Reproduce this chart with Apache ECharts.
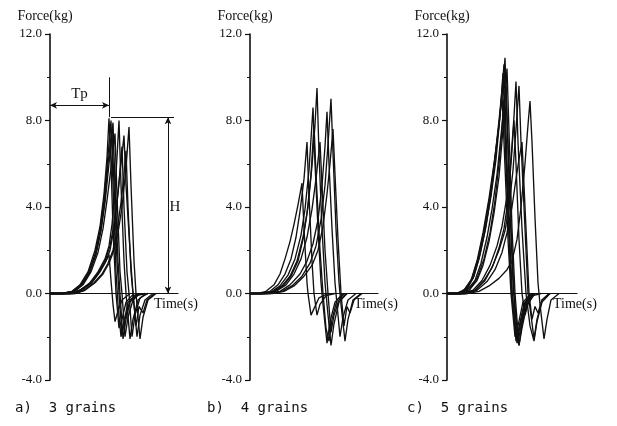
<!DOCTYPE html>
<html>
<head>
<meta charset="utf-8">
<script src="https://cdn.jsdelivr.net/npm/echarts@6/dist/echarts.min.js"></script>
<style>
  html, body { margin: 0; padding: 0; background: #fff; }
  #main { width: 617px; height: 426px; }
</style>
</head>
<body>
<div id="main"></div>
<script>
// force tick values (kg) and panel captions
var forceTicks = [-4, 0, 4, 8, 12];
var captions = ['a)  3 grains', 'b)  4 grains', 'c)  5 grains'];

// curves: [time, force] pairs, time in plot units from the axis
var grains3 = [
    [[0,0],[12,0],[22,0.1],[30,0.4],[38,1.0],[45,2.0],[50,3.1],[54,4.6],[57,6.3],[59,8.1],[61,6],[63,3],[66,0],[69,-1.6],[72,-1.2],[76,-0.4],[82,-0.1],[95,0]],
    [[0,0],[12,0],[22,0.1],[30,0.35],[38,0.9],[45,1.8],[50,2.9],[54,4.3],[58,6.4],[61,8.0],[63,5],[66,1],[68,-0.5],[71,-2.0],[74,-1.3],[78,-0.4],[85,-0.1],[98,0]],
    [[0,0],[14,0],[24,0.1],[32,0.4],[40,1.0],[46,1.8],[51,2.9],[55,4.2],[59,6.0],[63,7.9],[65,5],[68,1.5],[70,0],[73,-2.1],[76,-1.2],[80,-0.4],[88,0]],
    [[0,0],[15,0],[25,0.1],[33,0.4],[41,1.0],[48,1.9],[53,3.0],[57,4.3],[61,5.8],[65,7.4],[67,4.5],[70,1],[72,0],[75,-2.0],[78,-1.1],[83,-0.3],[90,0]],
    [[0,0],[18,0],[28,0.1],[38,0.4],[46,0.8],[52,1.2],[57,1.6],[59,1.8],[61,0.6],[63,-0.5],[65,-1.3],[68,-0.8],[72,-0.3],[80,0]],
    [[0,0],[20,0],[30,0.15],[40,0.5],[48,1.0],[55,1.6],[59,2.2],[62,3.2],[65,4.8],[67,6.3],[69,8.0],[71,5],[74,1.5],[76,0],[80,-2.1],[83,-1.2],[88,-0.3],[96,0]],
    [[0,0],[22,0],[32,0.15],[42,0.5],[50,1.0],[56,1.5],[60,2.0],[64,3.0],[68,4.6],[72,6.8],[74,4],[77,1],[79,0],[82,-2.0],[85,-1.0],[90,-0.2],[98,0]],
    [[0,0],[24,0],[34,0.15],[44,0.5],[52,0.9],[58,1.4],[63,2.0],[67,2.9],[71,4.2],[74,5.5],[76,6.6],[78,4],[81,1],[83,0],[87,-2.0],[90,-1.0],[95,-0.3],[103,0]],
    [[0,0],[25,0],[35,0.15],[45,0.5],[53,0.9],[59,1.4],[64,2.0],[68,2.8],[72,4.0],[76,5.8],[79,7.7],[81,5],[84,1.5],[86,0],[90,-2.1],[93,-1.1],[98,-0.3],[106,0]],
    [[0,0],[20,0],[30,0.15],[40,0.45],[48,0.9],[55,1.5],[60,2.2],[64,3.2],[68,4.7],[71,6.0],[74,7.3],[76,5],[80,2],[83,0],[86,-1.5],[89,-0.6],[93,-0.9],[97,-0.3],[105,0]],
    [[0,0],[13,0],[23,0.1],[31,0.4],[39,1.0],[46,1.9],[51,3.0],[55,4.4],[58,6.0],[62,7.6],[64,5],[67,1.5],[69,0],[72,-1.9],[75,-1.2],[80,-0.3],[88,0]]
];
var grains4 = [
    [[0,0],[8,0],[16,0.1],[24,0.4],[30,0.9],[35,1.6],[40,2.4],[44,3.2],[48,4.1],[52,5.1],[54,3],[57,0.5],[58,0],[61,-1.0],[64,-0.7],[69,-0.2],[78,0]],
    [[0,0],[10,0],[20,0.1],[28,0.4],[35,0.9],[41,1.6],[46,2.6],[50,3.8],[54,5.3],[57,7.0],[59,4.5],[62,1.5],[64,0],[67,-1.0],[70,-0.5],[76,-0.1],[85,0]],
    [[0,0],[12,0],[22,0.1],[30,0.35],[38,0.85],[45,1.6],[51,2.7],[55,3.9],[59,5.7],[63,8.6],[65,6],[68,3],[71,0.5],[73,-0.5],[77,-2.3],[80,-1.3],[85,-0.4],[93,0]],
    [[0,0],[14,0],[24,0.1],[32,0.35],[40,0.8],[47,1.5],[53,2.6],[58,4.0],[62,5.9],[65,7.8],[67,9.5],[69,6.5],[72,3],[75,0.5],[77,-0.5],[81,-2.4],[84,-1.4],[89,-0.4],[97,0]],
    [[0,0],[14,0],[24,0.1],[33,0.35],[41,0.8],[48,1.5],[53,2.5],[57,3.7],[61,5.5],[64,7.8],[66,5.5],[70,2],[73,0],[76,-1.6],[79,-2.2],[82,-1.2],[87,-0.3],[95,0]],
    [[0,0],[16,0],[26,0.1],[36,0.4],[44,0.9],[51,1.6],[57,2.6],[62,3.9],[66,5.3],[70,7.0],[72,5],[75,2],[78,0],[81,-1.8],[84,-1.0],[89,-0.3],[97,0]],
    [[0,0],[18,0],[30,0.1],[40,0.4],[50,0.9],[57,1.5],[63,2.3],[68,3.4],[72,5.0],[75,6.8],[77,8.4],[79,6],[82,3],[85,0.5],[87,-0.5],[90,-2.0],[93,-1.1],[98,-0.3],[106,0]],
    [[0,0],[20,0],[32,0.1],[42,0.35],[52,0.8],[60,1.4],[66,2.2],[71,3.4],[75,5.0],[78,6.9],[81,9.0],[83,6.5],[86,3],[89,0.5],[91,-0.5],[95,-2.2],[98,-1.2],[103,-0.3],[111,0]],
    [[0,0],[22,0],[34,0.1],[44,0.35],[54,0.8],[62,1.3],[68,2.0],[73,3.1],[77,4.6],[80,6.0],[83,7.6],[85,5.5],[88,2.5],[91,0],[94,-1.5],[97,-0.6],[100,-0.9],[104,-0.3],[112,0]]
];
var grains5 = [
    [[0,0],[8,0],[16,0.1],[24,0.6],[30,1.5],[36,2.8],[42,4.4],[47,6.0],[52,7.8],[56,9.6],[58,10.9],[60,8],[63,4],[66,0.5],[68,-0.8],[72,-2.4],[75,-1.4],[80,-0.4],[88,0]],
    [[0,0],[10,0],[18,0.15],[26,0.7],[32,1.6],[38,2.9],[44,4.5],[49,6.2],[53,8.2],[56,10.2],[58,7.5],[62,3],[65,0],[69,-2.2],[72,-1.6],[77,-0.5],[85,0]],
    [[0,0],[12,0],[20,0.15],[28,0.6],[34,1.4],[40,2.6],[45,3.9],[50,5.5],[54,7.3],[57,8.7],[59,9.6],[61,7],[64,3],[67,0],[71,-2.3],[74,-1.5],[79,-0.4],[87,0]],
    [[0,0],[12,0],[20,0.2],[27,0.8],[33,1.8],[39,3.1],[44,4.6],[48,6.2],[52,7.8],[55,9.2],[57,7],[61,2.5],[64,0],[68,-2.0],[71,-1.5],[76,-0.4],[84,0]],
    [[0,0],[14,0],[22,0.15],[30,0.6],[36,1.3],[42,2.4],[47,3.7],[52,5.4],[56,7.6],[58,9.0],[60,10.4],[62,7.5],[65,3],[68,0],[72,-2.4],[75,-1.6],[80,-0.5],[88,0]],
    [[0,0],[14,0],[22,0.15],[30,0.7],[37,1.6],[43,2.8],[48,4.3],[52,6.0],[55,7.6],[57,9.0],[59,6],[63,1.5],[65,0],[70,-2.1],[73,-1.4],[78,-0.4],[86,0]],
    [[0,0],[10,0],[18,0.2],[25,0.7],[31,1.6],[37,2.9],[43,4.5],[48,6.3],[52,8.0],[55,9.4],[57,10.6],[59,7.5],[62,3.5],[65,0],[70,-2.3],[73,-1.5],[78,-0.4],[86,0]],
    [[0,0],[16,0],[26,0.15],[35,0.6],[43,1.3],[50,2.2],[55,3.1],[60,4.5],[64,6.2],[67,8.2],[69,9.8],[71,7],[75,3],[79,0],[83,-1.5],[87,-2.2],[90,-1.3],[95,-0.4],[103,0]],
    [[0,0],[18,0],[28,0.15],[37,0.6],[45,1.2],[52,2.0],[58,2.9],[62,4.0],[66,5.7],[69,7.6],[72,9.6],[74,7],[78,3],[81,0],[84,-1.0],[87,-2.1],[90,-1.2],[95,-0.3],[103,0]],
    [[0,0],[18,0],[28,0.15],[38,0.6],[46,1.3],[52,2.1],[57,3.0],[61,4.3],[64,6.0],[67,8.0],[69,6],[72,2.5],[75,0],[78,-1.0],[81,-0.5],[86,-0.1],[94,0]],
    [[0,0],[20,0],[32,0.1],[42,0.35],[52,0.7],[60,1.1],[65,1.5],[70,2.5],[74,4.0],[78,6.0],[81,7.8],[83,8.9],[85,7],[88,3.5],[91,0.5],[93,-0.5],[97,-2.1],[100,-1.2],[104,-0.3],[112,0]],
    [[0,0],[20,0],[30,0.15],[40,0.55],[48,1.1],[55,1.9],[60,2.8],[65,4.0],[69,5.3],[72,6.2],[75,7.0],[77,5],[80,2],[82,0],[85,-1.2],[88,-0.6],[91,-0.9],[95,-0.3],[102,0]]
];
var panels = [grains3, grains4, grains5];

// Tp / H annotation values for panel a (time, force)
var tpTime = 59;
var hForce = 8.15;
var hTime = 118;

var myChart = echarts.init(document.getElementById('main'));

var ink = '#111';
var serif = 'Liberation Serif';
var gridLeft = [50, 250, 447];
var gridWidth = [128, 128, 130];
var captionLeft = [15, 207, 407];

var grids = [], xAxes = [], yAxes = [], titles = [], series = [];

for (var p = 0; p < 3; p++) {
    grids.push({ left: gridLeft[p], width: gridWidth[p], top: 34, bottom: 46 });
    xAxes.push({
        gridIndex: p, type: 'value', min: 0, max: gridWidth[p],
        name: 'Time(s)', nameLocation: 'end', nameGap: -24,
        nameTextStyle: { fontFamily: serif, fontSize: 14, color: ink, align: 'left', verticalAlign: 'top', padding: [4, 0, 0, 0] },
        axisLine: { onZero: true, lineStyle: { color: ink, width: 1.2 } },
        axisTick: { show: false }, axisLabel: { show: false }, splitLine: { show: false }
    });
    yAxes.push({
        gridIndex: p, type: 'value', min: -4, max: 12, interval: 4,
        name: 'Force(kg)', nameLocation: 'end', nameGap: 11,
        nameTextStyle: { fontFamily: serif, fontSize: 14, color: ink, align: 'center', padding: [0, 10, 0, 0] },
        axisLine: { show: true, onZero: false, lineStyle: { color: ink, width: 1.6 } },
        axisTick: { show: true, length: 5, lineStyle: { color: ink, width: 1.2 } },
        minorTick: { show: true, splitNumber: 2, length: 3, lineStyle: { color: ink, width: 1 } },
        axisLabel: { margin: 8, fontFamily: serif, fontSize: 13, color: ink,
            formatter: function (v) { return v.toFixed(1); } },
        splitLine: { show: false }
    });
    titles.push({
        text: captions[p], left: captionLeft[p], top: 401, padding: 0,
        textStyle: { fontFamily: 'DejaVu Sans Mono', fontSize: 14, fontWeight: 'normal', color: ink }
    });
    panels[p].forEach(function (curve) {
        series.push({
            type: 'line', xAxisIndex: p, yAxisIndex: p,
            data: curve, showSymbol: false, silent: true,
            lineStyle: { color: ink, width: 1.35 }
        });
    });
}

// Tp and H marks on panel a
series.push({
    type: 'line', xAxisIndex: 0, yAxisIndex: 0, data: [], silent: true,
    markLine: {
        silent: true, symbol: ['none', 'none'], symbolSize: [5, 7],
        lineStyle: { color: ink, width: 1, type: 'solid' },
        label: { show: false },
        data: [
            [{ coord: [0, 8.7], symbol: 'arrow' }, { coord: [tpTime, 8.7], symbol: 'arrow' }],
            [{ coord: [tpTime, hForce] }, { coord: [tpTime, 10.0] }],
            [{ coord: [tpTime + 2, hForce] }, { coord: [hTime + 6, hForce] }],
            [{ coord: [hTime, hForce], symbol: 'arrow' }, { coord: [hTime, 0], symbol: 'arrow' }]
        ]
    },
    markPoint: {
        symbol: 'circle', symbolSize: 1, itemStyle: { color: 'rgba(0,0,0,0)' },
        label: { show: true, position: 'inside', formatter: '{b}', fontFamily: serif, fontSize: 15, color: ink },
        data: [
            { name: 'Tp', coord: [tpTime / 2, 9.2] },
            { name: 'H', coord: [hTime + 7, 4.0] }
        ]
    }
});

var option = {
    animation: false,
    backgroundColor: '#fff',
    title: titles,
    grid: grids,
    xAxis: xAxes,
    yAxis: yAxes,
    series: series
};

myChart.setOption(option);
</script>
</body>
</html>
